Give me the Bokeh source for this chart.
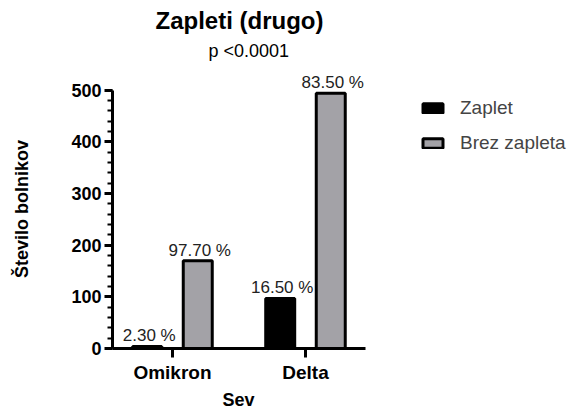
import numpy as np
from bokeh.plotting import figure
from bokeh.core.properties import value
from bokeh.models import (ColumnDataSource, Range1d, FixedTicker, SingleIntervalTicker,
                          LabelSet, Legend, LegendItem, Title)
from bokeh.embed import file_html
from bokeh.resources import INLINE

categories = ["Omikron", "Delta"]
zaplet = [4, 97]
brez_zapleta = [170, 494]
zaplet_pct = ["2.30 %", "16.50 %"]
brez_pct = ["97.70 %", "83.50 %"]
y_ticks_major = 100

FONT = "Liberation Sans"
GRAY = "#A3A2A7"

idx = np.arange(len(categories))
OFF = 0.19
W = 0.218
X0, X1 = -0.451, 1.451

src_z = ColumnDataSource(dict(x=idx - OFF, top=zaplet, lab=zaplet_pct))
src_b = ColumnDataSource(dict(x=idx + OFF, top=brez_zapleta, lab=brez_pct))

p = figure(width=576, height=411, output_backend="svg", toolbar_location=None,
           x_range=Range1d(X0, X0 + 460 / 133), y_range=Range1d(0, 540),
           min_border_left=112, min_border_right=4, min_border_top=69, min_border_bottom=63,
           outline_line_color=None)
p.background_fill_color = "white"
p.border_fill_color = "white"
p.xgrid.visible = False
p.ygrid.visible = False

rz = p.vbar(x="x", top="top", width=W, source=src_z, fill_color="black",
            line_color="black", line_width=3)
rb = p.vbar(x="x", top="top", width=W, source=src_b, fill_color=GRAY,
            line_color="black", line_width=3)

for s in (src_z, src_b):
    p.add_layout(LabelSet(x="x", y="top", text="lab", source=s, text_align="center",
                          text_baseline="alphabetic", y_offset=5, x_offset=2,
                          text_font=value(FONT), text_font_size="17px", text_color="#222222"))

# axes
ya = p.yaxis[0]
ya.ticker = SingleIntervalTicker(interval=y_ticks_major, num_minor_ticks=5)
ya.bounds = (0, 500)
ya.axis_line_width = 3
ya.major_tick_line_width = 3
ya.minor_tick_line_width = 2
ya.major_tick_in = 0
ya.major_tick_out = 8
ya.minor_tick_in = 0
ya.minor_tick_out = 5
ya.major_label_text_font = FONT
ya.major_label_text_font_style = "bold"
ya.major_label_text_font_size = "18px"
ya.major_label_text_color = "black"
ya.major_label_standoff = 3
ya.axis_label = "Število bolnikov"
ya.axis_label_text_font = FONT
ya.axis_label_text_font_style = "bold"
ya.axis_label_text_font_size = "18px"
ya.axis_label_text_color = "black"
ya.axis_label_standoff = 36

xa = p.xaxis[0]
xa.ticker = FixedTicker(ticks=list(idx))
xa.bounds = (X0, X1)
xa.major_label_overrides = {int(i): c for i, c in zip(idx, categories)}
xa.axis_line_width = 3
xa.major_tick_line_width = 3
xa.major_tick_in = 0
xa.major_tick_out = 9
xa.minor_tick_line_color = None
xa.major_label_text_font = FONT
xa.major_label_text_font_style = "bold"
xa.major_label_text_font_size = "19px"
xa.major_label_text_color = "black"
xa.major_label_standoff = 4

p.add_layout(Title(text="Sev", align="left", offset=110, text_font=FONT,
                   text_font_size="18px", text_font_style="bold", text_color="black",
                   standoff=4), "below")

legend = Legend(items=[LegendItem(label="Zaplet", renderers=[rz]),
                       LegendItem(label="Brez zapleta", renderers=[rb])],
                location=(308, 194), orientation="vertical",
                glyph_width=25, glyph_height=12, label_height=20, spacing=13,
                label_text_font=FONT, label_text_font_size="19px",
                label_standoff=15, padding=0, margin=0,
                border_line_color=None, background_fill_alpha=0)
p.add_layout(legend, "center")

p.add_layout(Title(text="p <0.0001", align="left", text_font=FONT,
                   text_font_size="18px", text_font_style="normal", text_color="black",
                   offset=96, standoff=18), "above")
p.add_layout(Title(text="Zapleti (drugo)", align="left", text_font=FONT,
                   text_font_size="24px", text_font_style="bold", text_color="black",
                   offset=43, standoff=-8), "above")

open("out.html", "w").write(file_html(p, INLINE))
